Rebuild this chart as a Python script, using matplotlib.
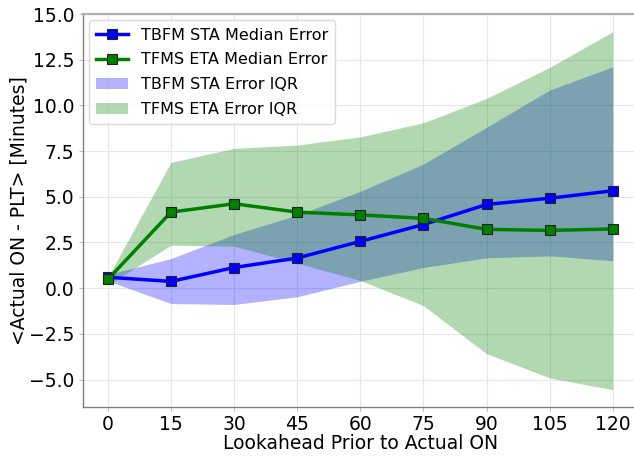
import matplotlib
matplotlib.use("Agg")
import matplotlib.pyplot as plt

lookahead = [0, 15, 30, 45, 60, 75, 90, 105, 120]
tbfm_median = [0.60, 0.37, 1.13, 1.65, 2.56, 3.48, 4.58, 4.92, 5.33]
tfms_median = [0.48, 4.16, 4.62, 4.16, 4.01, 3.82, 3.22, 3.16, 3.24]
tbfm_q1 = [0.40, -0.84, -0.89, -0.47, 0.38, 1.13, 1.66, 1.77, 1.50]
tbfm_q3 = [0.75, 1.62, 2.94, 4.00, 5.30, 6.79, 8.80, 10.84, 12.11]
tfms_q1 = [0.18, 2.35, 2.30, 1.37, 0.42, -0.95, -3.58, -4.91, -5.55]
tfms_q3 = [0.60, 6.88, 7.65, 7.83, 8.28, 9.05, 10.38, 12.08, 14.03]
xticks = [0, 15, 30, 45, 60, 75, 90, 105, 120]

fig = plt.figure(figsize=(6.34, 4.58), dpi=100)
ax = fig.add_axes([82.6/634, 51/458, (638-82.6)/634, (407-14)/458])

ax.fill_between(lookahead, tbfm_q1, tbfm_q3, color="blue", alpha=0.3, linewidth=0,
                label="TBFM STA Error IQR", zorder=1)
ax.fill_between(lookahead, tfms_q1, tfms_q3, color="green", alpha=0.3, linewidth=0,
                label="TFMS ETA Error IQR", zorder=1)
ax.plot(lookahead, tbfm_median, color="blue", marker="s", markersize=7, linewidth=2.5,
        markeredgecolor="#222222", markeredgewidth=0.8, label="TBFM STA Median Error", zorder=3)
ax.plot(lookahead, tfms_median, color="green", marker="s", markersize=7, linewidth=2.5,
        markeredgecolor="#222222", markeredgewidth=0.8, label="TFMS ETA Median Error", zorder=3)

ax.set_xlim(-6, 126)
ax.set_ylim(-6.5, 15.0)
ax.set_xticks(xticks)
ax.set_yticks([-5.0, -2.5, 0.0, 2.5, 5.0, 7.5, 10.0, 12.5, 15.0])
ax.grid(True, color="#e6e6e6", linewidth=0.8, zorder=0)
ax.set_axisbelow(True)

for s in ["left", "bottom"]:
    ax.spines[s].set_color("#808080")
    ax.spines[s].set_linewidth(1.0)
ax.spines["top"].set_color("#b0b0b0")
ax.spines["top"].set_linewidth(1.6)
ax.spines["right"].set_visible(False)
ax.tick_params(axis="both", labelsize=13.5, length=3, color="#c0c0c0", pad=3)

ax.set_xlabel("Lookahead Prior to Actual ON", fontsize=13.5, labelpad=0)
ax.set_ylabel("<Actual ON - PLT> [Minutes]", fontsize=13.5, labelpad=0)

handles, labels = ax.get_legend_handles_labels()
order = [2, 3, 0, 1]
ax.legend([handles[i] for i in order], [labels[i] for i in order], loc="upper left",
          fontsize=11.5, frameon=True, fancybox=True, framealpha=0.8, edgecolor="#d0d0d0",
          borderpad=0.45, handlelength=2.0, labelspacing=0.62, borderaxespad=0.4)

fig.savefig("out.png", dpi=100)
